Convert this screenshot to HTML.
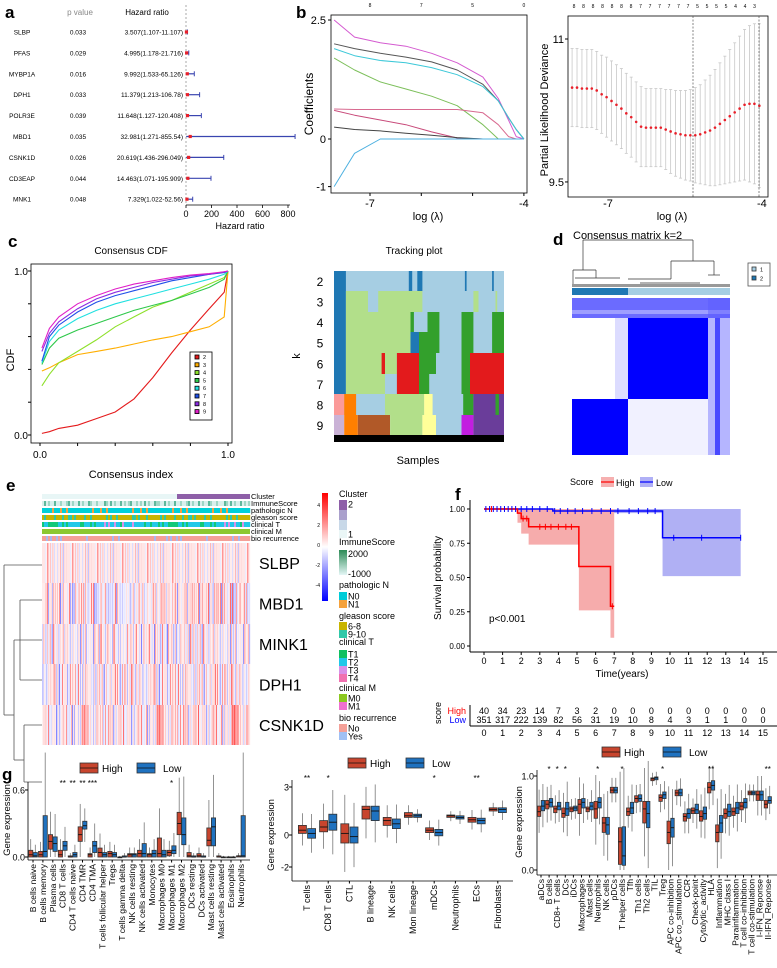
<!DOCTYPE html>
<html><head><meta charset="utf-8"><title>Figure</title>
<style>body{margin:0;background:#fff}svg{display:block;font-family:"Liberation Sans",Arial,sans-serif}</style></head>
<body>
<svg id="fig" width="777" height="968" viewBox="0 0 777 968" xmlns="http://www.w3.org/2000/svg">
<defs>
<linearGradient id="cbar" x1="0" y1="0" x2="0" y2="1"><stop offset="0" stop-color="#ff0000"/><stop offset="0.5" stop-color="#ffffff"/><stop offset="1" stop-color="#0000ff"/></linearGradient>
<linearGradient id="imm" x1="0" y1="0" x2="0" y2="1"><stop offset="0" stop-color="#2e8b57"/><stop offset="1" stop-color="#e4f6f6"/></linearGradient>
</defs>
</svg>
<script>
// ---------- DATA ----------
const aGenes=['SLBP','PFAS','MYBP1A','DPH1','POLR3E','MBD1','CSNK1D','CD3EAP','MNK1'];
const aP=['0.033','0.029','0.016','0.033','0.039','0.035','0.026','0.044','0.048'];
const aHR=[3.507,4.995,9.992,11.379,11.648,32.981,20.619,14.463,7.329];
const aLo=[1.107,1.178,1.533,1.213,1.127,1.271,1.436,1.071,1.022];
const aHi=[11.107,21.716,65.126,106.78,120.408,855.54,296.049,195.909,52.56];
const aTicks=[0,200,400,600,800];

const bLam=[-7.7,-7.3,-6.8,-6.3,-5.8,-5.3,-4.8,-4.5,-4.3,-4.15,-4];
const coefPink=[2.5,2.14,2.02,1.95,1.8,1.6,1.3,0.85,0.4,0.05,0];
const coefDark=[2.0,1.9,1.8,1.72,1.62,1.45,1.15,0.8,0.45,0.2,0];
const coefCyan=[1.9,1.75,1.65,1.6,1.5,1.35,1.1,0.8,0.45,0.2,0];
const coefGreen=[1.7,1.45,1.2,1.05,0.9,0.7,0.3,0,0,0,0];
const coefRose=[0.63,0.62,0.62,0.62,0.62,0.62,0.55,0.3,0.05,0,0];
const coefMauve=[0.6,0.5,0.4,0.3,0.15,0.02,0,0,0,0,0];
const coefGray=[0.25,0.2,0.17,0.12,0.08,0.03,0,0,0,0,0];
const coefBlue=[-1,-0.3,0,0,0,0,0,0,0,0,0];
const coefTopLab=['8','7','5','0'];
const coefTopLam=[-7,-6,-5,-4];

const devMean=[10.49,10.49,10.48,10.48,10.48,10.46,10.42,10.39,10.35,10.31,10.27,10.22,10.18,10.13,10.08,10.07,10.07,10.07,10.07,10.05,10.03,10.01,10.00,9.99,9.99,9.99,10.00,10.02,10.04,10.07,10.11,10.15,10.19,10.23,10.27,10.31,10.32,10.32,10.30];
const devSE=[.41,.41,.41,.41,.41,.41,.41,.42,.42,.42,.42,.42,.42,.42,.42,.41,.41,.41,.41,.42,.44,.45,.46,.47,.48,.50,.52,.55,.58,.61,.64,.67,.70,.73,.76,.79,.82,.84,.86];
const devTop=['8','8','8','8','8','8','8','7','7','7','7','7','7','5','5','5','5','4','4','3'];

const cdfX=[0.01,0.05,0.1,0.2,0.3,0.4,0.5,0.6,0.7,0.8,0.9,0.98,1.0];
const cdfK2=[.01,.02,.04,.06,.10,.14,.22,.35,.50,.64,.77,.87,1];
const cdfK3=[.39,.41,.44,.49,.51,.53,.555,.58,.60,.63,.66,.72,1];
const cdfK4=[.30,.37,.44,.51,.58,.66,.72,.78,.82,.87,.92,.96,1];
const cdfK5=[.43,.53,.59,.64,.68,.72,.76,.79,.82,.86,.90,.95,1];
const cdfK6=[.44,.57,.64,.71,.76,.80,.83,.86,.89,.92,.95,.98,1];
const cdfK7=[.45,.60,.67,.75,.81,.85,.88,.91,.94,.96,.98,.99,1];
const cdfK8=[.51,.62,.69,.77,.83,.87,.90,.93,.95,.97,.98,.995,1];
const cdfK9=[.53,.65,.72,.80,.85,.89,.92,.94,.96,.975,.985,.995,1];

const survHighT=[0,1.8,2.0,2.4,5.1,6.8,7.0];
const survHighS=[1,0.97,0.93,0.87,0.58,0.29,0.29];
const survHighLo=[1,0.9,0.82,0.74,0.26,0.06,0.06];
const survLowT=[0,3.7,9.6,13.8];
const survLowS=[1,0.985,0.79,0.79];
const survLowLo=[1,0.97,0.51,0.51];
const censHigh=[0.4,2.1,2.3,3.0,3.3,3.6,4.0,4.4,4.7,6.9];
const censLow=[0.1,0.3,0.5,0.7,0.9,1.1,1.3,1.5,1.7,2,2.3,2.6,3,3.4,3.8,4.1,4.5,4.9,5.3,5.8,6.3,6.8,7.2,7.8,8.3,8.8,9.2,10.2,11.7,13.8];
const riskHigh=[40,34,23,14,7,3,2,0,0,0,0,0,0,0,0,0];
const riskLow=[351,317,222,139,82,56,31,19,10,8,4,3,1,1,0,0];

const g1Cats=['B cells naive','B cells memory','Plasma cells','CD8 T cells','CD4 T cells naive','CD4 TMR','CD4 TMA','T cells follicular helper','Tregs','T cells gamma delta','NK cells resting','NK cells activated','Monocytes','Macrophages M0','Macrophages M1','Macrophages M2','DCs resting','DCs activated','Mast cells resting','Mast cells activated','Eosinophils','Neutrophils'];
const g1HMed=[.02,.02,.14,.02,0,.2,.02,.04,.03,0,.02,.03,.02,.03,.04,.3,.01,.01,.15,0,0,.01];
const g1HQ1=[0,0,.07,0,0,.14,0,0,0,0,0,0,0,0,.01,.2,0,0,.1,0,0,0];
const g1HQ3=[.06,.05,.2,.06,.01,.27,.03,.08,.05,0,.03,.06,.03,.17,.06,.4,.04,.03,.26,.01,0,.01];
const g1LMed=[.01,.05,.12,.1,.02,.28,.1,.02,.02,0,.02,.03,.03,.02,.06,.2,0,0,.27,0,0,.01];
const g1LQ1=[0,0,.05,.06,0,.25,.04,0,0,0,0,0,0,0,.03,.11,0,0,.1,0,0,0];
const g1LQ3=[.04,.37,.18,.14,.04,.32,.14,.04,.04,.01,.03,.12,.06,.06,.1,.35,.01,.01,.35,0,0,.37];
const g1Sig=['','','','**','**','**','***','','','','','','','','*','','','','','','',''];
const g1Ticks=[0.0,0.6];

const g2Cats=['T cells','CD8 T cells','CTL','B lineage','NK cells','Mon lineage','mDCs','Neutrophils','ECs','Fibroblasts'];
const g2HMed=[.3,.5,.1,1.6,.9,1.2,.3,1.2,.95,1.6];
const g2HQ1=[.1,.2,-.5,1.0,.6,1.1,.15,1.1,.8,1.5];
const g2HQ3=[.6,.9,.7,1.8,1.1,1.4,.45,1.25,1.1,1.7];
const g2LMed=[.1,.8,-.1,1.5,.7,1.2,.15,1.1,.9,1.6];
const g2LQ1=[-.2,.3,-.5,.9,.4,1.1,-.05,1.0,.7,1.4];
const g2LQ3=[.4,1.3,.5,1.8,1.0,1.3,.35,1.2,1.05,1.7];
const g2Sig=['**','*','','','','','*','','**',''];
const g2Ticks=[-2,0,3];

const g3Cats=['aDCs','B cells','CD8+ T cells','DCs','iDCs','Macrophages','Mast cells','Neutrophils','NK cells','pDCs','T helper cells','Tfh','Th1 cells','Th2 cells','TIL','Treg','APC co-inhibition','APC co_stimulation','CCR','Check-point','Cytolytic_activity','HLA','Inflammation','MHC class I','Parainflammation','T cell co-inhibition','T cell co-stimulation','I-IFN_Reponse','II-IFN_Reponse'];
const g3HMed=[.62,.7,.65,.6,.65,.7,.65,.65,.5,.85,.3,.62,.76,.65,.97,.77,.4,.82,.57,.63,.57,.88,.4,.6,.62,.68,.82,.8,.7];
const g3HQ1=[.57,.65,.61,.56,.62,.6,.62,.55,.4,.82,.06,.58,.72,.5,.95,.73,.28,.79,.52,.6,.52,.82,.3,.55,.58,.64,.8,.74,.66];
const g3HQ3=[.68,.74,.68,.66,.67,.75,.67,.73,.56,.88,.45,.66,.79,.73,.98,.8,.52,.85,.6,.66,.63,.93,.48,.65,.66,.72,.84,.84,.74];
const g3LMed=[.68,.72,.68,.65,.66,.72,.68,.72,.48,.85,.15,.66,.76,.6,.98,.8,.45,.82,.6,.64,.6,.9,.5,.62,.66,.72,.82,.8,.74];
const g3LQ1=[.63,.67,.64,.58,.63,.66,.64,.66,.38,.82,.05,.6,.73,.45,.96,.76,.35,.79,.55,.6,.54,.85,.4,.57,.6,.66,.8,.74,.71];
const g3LQ3=[.74,.76,.72,.72,.68,.76,.72,.77,.56,.88,.46,.72,.8,.73,.99,.83,.55,.86,.65,.7,.67,.95,.58,.7,.72,.76,.84,.84,.78];
const g3Sig=['','*','*','*','','','','*','','','*','','','','','*','','','','','','**','','','','','','','**'];
const g3Ticks=[0.0,1.0];

const hmPattern=[.2,-.4,.1,.5,-.1,.3,-.7,.2,.0,.6,-.3,.1,.4,-.5,.2,.9,-.2,.1,-.6,.3,.5,-.1,.2,-.8,.4,.1,-.3,.7,.0,-.2,.3,-.5,.6,.1,-.4,.2,.8,-.1,.3,-.6,.1,.4,-.2,.5,-.9,.2,.0,.6,-.3,.4,.1,-.5,.3,.7,-.1,.2,-.4,.5,.9,-.2];
const hmGenes=['SLBP','MBD1','MINK1','DPH1','CSNK1D'];
const hmGeneBias=[0.0,0.03,0.0,0.02,0.06];

// ---------- HELPERS ----------
const NS='http://www.w3.org/2000/svg';
const svg=document.getElementById('fig');
function mk(tag,a,p){const e=document.createElementNS(NS,tag);for(const k in a)e.setAttribute(k,a[k]);(p||svg).appendChild(e);return e;}
function grp(name){const g=mk('g',{});return g;}
function T(p,x,y,s,fs,anchor,fill,rot,weight){const e=mk('text',{x:x,y:y,'font-size':fs,'text-anchor':anchor||'start',fill:fill||'#000'},p);if(weight)e.setAttribute('font-weight',weight);if(rot)e.setAttribute('transform','rotate('+rot+' '+x+' '+y+')');e.textContent=s;return e;}
function L(p,x1,y1,x2,y2,st,w,dash){const e=mk('line',{x1:x1,y1:y1,x2:x2,y2:y2,stroke:st||'#000','stroke-width':w||1},p);if(dash)e.setAttribute('stroke-dasharray',dash);return e;}
function R(p,x,y,w,h,fill,st){const e=mk('rect',{x:x,y:y,width:Math.max(0,w),height:Math.max(0,h),fill:fill||'none'},p);if(st){e.setAttribute('stroke',st);e.setAttribute('stroke-width',0.8);}return e;}
function hmColor(v){v=Math.max(-1,Math.min(1,v));const a=Math.pow(Math.abs(v),1.6)*0.8+0.06;const c=Math.round(255*(1-Math.min(1,a)));if(v>=0){return 'rgb(255,'+c+','+c+')';}return 'rgb('+c+','+c+',255)';}

// ---------- PANEL LABELS ----------
(function(){const g=grp('panel-labels');
[['a',5,18],['b',296,18],['c',8,247],['d',553,245],['e',6,491],['f',455,500],['g',2,780]].forEach(function(d){const t=T(g,d[1],d[2],d[0],17,'start','#000',0,'bold');});})();

// ---------- PANEL A: forest ----------
(function(){const g=grp('forest-plot');
const hx=v=>186+v*(288-186)/800;
let t=T(g,80,15,'p value',8,'middle','#888');
t=T(g,147,15,'Hazard ratio',8,'middle');
let ln=L(g,186,5,186,205,'#aaa',1,'2,2');
aGenes.forEach(function(gn,i){const y=32+i*20.9;
 let e=T(g,22,y+2.5,gn,6.5,'middle');
 e=T(g,78,y+2.5,aP[i],6.5,'middle');
 e=T(g,183,y+2.5,aHR[i]+'('+aLo[i]+'-'+aHi[i]+')',6.5,'end');
 e=L(g,hx(aLo[i]),y,hx(aHi[i]),y,'#3a45b0',1.2);
 e=L(g,hx(aHi[i]),y-2.5,hx(aHi[i]),y+2.5,'#3a45b0',1);
 e=R(g,hx(aHR[i])-1.6,y-1.6,3.2,3.2,'#e8202a');
});
ln=L(g,186,205,290,205,'#000',0.8);
aTicks.forEach(function(v){let e=L(g,hx(v),205,hx(v),208,'#000',0.8);
 e=T(g,hx(v),217,String(v),9,'middle');});
t=T(g,240,229,'Hazard ratio',9,'middle');
})();

// ---------- PANEL B left: coefficients ----------
(function(){const g=grp('lasso-coefficient-plot');
const bx=l=>370+(l+7)*51.3, by=c=>139-c*47.6;
let e=R(g,331,15,196,178,'none','#000');
const series=[[coefPink,'#d45ad0'],[coefDark,'#555'],[coefCyan,'#3cc8d8'],[coefGreen,'#7cbf5a'],[coefRose,'#d86a90'],[coefMauve,'#c84a7a'],[coefGray,'#444'],[coefBlue,'#4cb0e0']];
series.forEach(function(s){let d='';s[0].forEach(function(v,i){d+=(i?'L':'M')+bx(bLam[i]).toFixed(1)+','+by(v).toFixed(1);});
 const p=mk('path',{d:d,fill:'none',stroke:s[1],'stroke-width':1,'stroke-linejoin':'round'},g);});
[2.5,0,-1].forEach(function(v){let q=L(g,328,by(v),331,by(v));
 q=T(g,326,by(v)+4,String(v),11,'end');});
[-7,-4].forEach(function(v){let q=T(g,bx(v),207,String(v),11,'middle');});
[-7,-6,-5,-4].forEach(function(v){let q=L(g,bx(v),193,bx(v),196);});
coefTopLab.forEach(function(s,i){let q=T(g,bx(coefTopLam[i]),7,s,5,'middle');});
e=T(g,428,220,'log (λ)',11,'middle');
e=T(g,313,104,'Coefficients',12,'middle','#000',-90);
})();

// ---------- PANEL B right: deviance ----------
(function(){const g=grp('lasso-deviance-plot');
const n=devMean.length;const lamAt=i=>-7.7+i*(3.65/(n-1));
const dx=l=>608+(l+7)*51.3, dy=v=>39+(11-v)*95.3;
let e=R(g,568,16,200,181,'none','#000');
devMean.forEach(function(m,i){const x=dx(lamAt(i));
 let q=L(g,x,dy(m+devSE[i]),x,dy(m-devSE[i]),'#c8c8c8',0.8);
 q=L(g,x-1.5,dy(m+devSE[i]),x+1.5,dy(m+devSE[i]),'#c8c8c8',0.8);
 q=L(g,x-1.5,dy(m-devSE[i]),x+1.5,dy(m-devSE[i]),'#c8c8c8',0.8);
 q=mk('circle',{cx:x,cy:dy(m),r:1.3,fill:'#e8202a'},g);});
let q=L(g,693,16,693,197,'#555',0.7,'2,1.5');
q=L(g,759,16,759,197,'#555',0.7,'2,1.5');
[11,9.5].forEach(function(v){let r=L(g,565,dy(v),568,dy(v));
 r=T(g,564,dy(v)+4,String(v),11,'end');});
[-7,-4].forEach(function(v){let r=T(g,dx(v),207,String(v),11,'middle');});
devTop.forEach(function(s,i){let r=T(g,574+i*9.5,8,s,5,'middle');});
e=T(g,672,220,'log (λ)',11,'middle');
e=T(g,548,110,'Partial Likelihood Deviance',11,'middle','#000',-90);
})();

// ---------- PANEL C: CDF ----------
(function(){const g=grp('consensus-cdf-plot');
const cx=v=>40+v*188, cy=v=>435-v*164;
let e=T(g,131,254,'Consensus CDF',10,'middle');
e=R(g,31,264,201,179,'none','#000');
const ser=[[cdfK2,'#e41a1c','2'],[cdfK3,'#ffae00','3'],[cdfK4,'#8ee02a','4'],[cdfK5,'#2ec84a','5'],[cdfK6,'#20e0e0','6'],[cdfK7,'#2050e8','7'],[cdfK8,'#8a2be2','8'],[cdfK9,'#e020c8','9']];
ser.forEach(function(s){let d='';s[0].forEach(function(v,i){d+=(i?'L':'M')+cx(cdfX[i]).toFixed(1)+','+cy(v).toFixed(1);});
 const p=mk('path',{d:d,fill:'none',stroke:s[1],'stroke-width':1.1},g);});
[0,1].forEach(function(v){let q=T(g,28,cy(v)+4,v.toFixed(1),10,'end');
 q=T(g,cx(v),458,v.toFixed(1),10,'middle');});
[0,0.2,0.4,0.6,0.8,1].forEach(function(v){let q=L(g,cx(v),443,cx(v),446);
 q=L(g,28,cy(v),31,cy(v));});
e=T(g,14,360,'CDF',11,'middle','#000',-90);
e=T(g,131,478,'Consensus index',11,'middle');
const lg=grp('cdf-legend');g.appendChild(lg);
e=R(lg,190,352,22,68,'#fff','#000');
ser.forEach(function(s,i){const y=357+i*7.8;let q=R(lg,195,y-2,4,4,s[1],'#000');
 q=T(lg,203,y+2,s[2],5.5,'start');});
})();

// ---------- TRACKING PLOT ----------
(function(){const g=grp('tracking-plot');
const LB='#a6cee3',DB='#1f78b4',LG='#b2df8a',G='#33a02c',RD='#e31a1c',PK='#fb9a99',OR='#ff7f00',BR='#b15928',Y='#ffff99',LP='#cab2d6',P='#6a3d9a',M='#c21ee0';
const rows=[[[0,1,LB],[0,.07,DB],[.44,.46,DB],[.49,.52,DB],[.77,.78,DB],[.93,.94,DB]],
[[0,1,LB],[0,.07,DB],[.07,.2,LG],[.26,.52,LG],[.82,.85,LG],[.95,.96,LG]],
[[0,1,LB],[0,.07,DB],[.07,.45,LG],[.45,.47,G],[.55,.62,G],[.75,.82,G],[.93,1,G]],
[[0,1,LB],[0,.07,DB],[.07,.45,LG],[.45,.5,DB],[.5,.62,G],[.75,.82,G],[.93,1,G]],
[[0,1,LB],[0,.07,DB],[.07,.37,LG],[.28,.3,RD],[.37,.5,RD],[.5,.6,G],[.75,.8,G],[.8,1,RD]],
[[0,1,LB],[0,.07,DB],[.07,.3,LG],[.37,.5,RD],[.5,.56,G],[.75,.8,G],[.8,1,RD]],
[[0,1,LB],[0,.06,PK],[.06,.13,OR],[.3,.53,LG],[.53,.58,Y],[.76,.82,G],[.82,1,P],[.95,.97,G]],
[[0,.06,LP],[.06,.14,OR],[.14,.33,BR],[.33,.52,LG],[.52,.6,Y],[.6,.75,LB],[.75,.82,M],[.82,1,P]]];
const tops=[271,291,312,332,353,374,394,415,435];
const tx=f=>334+f*170;
rows.forEach(function(segs,r){segs.forEach(function(s){let q=R(g,tx(s[0]),tops[r],tx(s[1])-tx(s[0]),tops[r+1]-tops[r],s[2]);});
 let q=T(g,320,(tops[r]+tops[r+1])/2+5,String(r+2),12,'middle');});
let e=R(g,334,435,170,7,'#000');
e=T(g,414,254,'Tracking plot',10,'middle');
e=T(g,300,356,'k',11,'middle','#000',-90);
e=T(g,418,464,'Samples',11,'middle');
})();

// ---------- PANEL D: consensus matrix ----------
(function(){const g=grp('consensus-matrix');
let e=T(g,573,239,'Consensus matrix k=2',11,'start');
const dl=[[583,240,693,240],[583,240,583,270],[693,240,693,261],[573,270,596,270],[573,270,573,285],[596,270,596,278],[671,261,714,261],[671,261,671,279],[714,261,714,275],[628,279,671,279],[708,275,720,275],[575,278,620,278],[640,283,700,283]];
dl.forEach(function(l){let q=L(g,l[0],l[1],l[2],l[3],'#333',0.7);});
e=R(g,572,284,158,3,'#999');
e=R(g,572,288,56,7,'#1f78b4');
e=R(g,628,288,102,7,'#a6cee3');
const blocks=[[572,298,158,157,'#ffffff',1],[572,298,158,20,'#3a3aff',0.75],[572,310,158,4,'#ffffff',0.35],[628,318,80,81,'#0000ff',1],[572,399,56,56,'#0000ff',1],[708,298,22,157,'#5a5aff',0.45],[715,318,5,137,'#0000ff',0.6],[615,318,13,81,'#9a9aff',0.35],[628,399,80,56,'#c8c8ff',0.25]];
blocks.forEach(function(b){let q=R(g,b[0],b[1],b[2],b[3],b[4]);q.setAttribute('opacity',b[5]);});
e=R(g,748,263,22,23,'#fff','#555');
[['1','#a6cee3',270],['2','#1f78b4',279]].forEach(function(l){let q=R(g,752,l[2]-3,4,4,l[1],'#333');
 q=T(g,760,l[2]+1.5,l[0],5.5);});
})();

// ---------- PANEL E: heatmap ----------
(function(){const g=grp('expression-heatmap');
const x0=42,w=208,nc=104,cw=w/nc;
const tracks=[['Cluster',494,5],['ImmuneScore',501,5],['pathologic N',508,5],['gleason score',515,5],['clinical T',522,5],['clinical M',529,5],['bio recurrence',536,5]];
let e=R(g,x0,494,135,5,'#e8f6f6');
e=R(g,177,494,73,5,'#8e5fa8');
for(let j=0;j<nc;j++){const v=hmPattern[j%60];const x=x0+j*cw;
 let q=R(g,x,501,cw+0.2,5,v>0.3?'#9fd6c6':(v<-0.3?'#5fb89c':'#d8efec'));
 q=R(g,x,508,cw+0.2,5,hmPattern[(j*3)%60]>0.6?'#f0a040':'#00d0d8');
 q=R(g,x,515,cw+0.2,5,hmPattern[(j*7+5)%60]>0.35?'#30c8a8':'#c8b400');
 const tv=hmPattern[(j*11+3)%60];q=R(g,x,522,cw+0.2,5,tv>0.3?'#10c878':(tv<-0.5?'#d890e8':'#20c8e8'));
 q=R(g,x,536,cw+0.2,5,hmPattern[(j*13+1)%60]>0.55?'#a8b8f0':'#f4a098');}
e=R(g,x0,529,w,5,'#8cc830');
tracks.forEach(function(t){let q=T(g,251,t[1]+5,t[0],7.5);});
const rowTops=[543,583,624,664,705,745];
const nh=208,hw=w/nh;
hmGenes.forEach(function(gn,r){for(let j=0;j<nh;j++){const v=hmPattern[(j*(r+7)+r*17+Math.floor(j/5))%60]*0.75+hmGeneBias[r]*(j/nh)*3;
 let q=R(g,x0+j*hw,rowTops[r],hw+0.15,rowTops[r+1]-rowTops[r],hmColor(v));}
 let q=T(g,259,(rowTops[r]+rowTops[r+1])/2+6,gn,16,'start');});
const dl=[[4,565,4,715],[4,565,42,565],[4,715,14,715],[14,640,14,760],[14,640,42,640],[14,760,24,760],[24,725,24,782],[24,725,42,725],[24,782,42,782],[20,600,42,600],[20,600,20,680],[20,680,42,680]];
dl.forEach(function(l){let q=L(g,l[0],l[1],l[2],l[3],'#555',0.8);});
e=R(g,322,493,6,108,'url(#cbar)');
[['4',507],['2',527],['0',547],['-2',567],['-4',587]].forEach(function(t){let q=T(g,320,t[1],t[0],5,'end');});
const lg=[['Cluster',497],['ImmuneScore',545],['pathologic N',588],['gleason score',619],['clinical T',645],['clinical M',691],['bio recurrence',721]];
lg.forEach(function(t){let q=T(g,339,t[1],t[0],9);});
const sw=[[500,'#8e5fa8','2'],[510,'#aaa0cc',''],[520,'#c8d8e8',''],[530,'#eaf6f6','1'],[592,'#00ccd8','N0'],[600,'#f5a23c','N1'],[622,'#c8b400','6-8'],[630,'#30c8a8','9-10'],[650,'#10c060','T1'],[658,'#20c8e8','T2'],[666,'#d890e8','T3'],[674,'#f070b0','T4'],[694,'#8cc820','M0'],[702,'#f070d0','M1'],[724,'#f4a098','No'],[732,'#a0c0f4','Yes']];
sw.forEach(function(s){let q=R(g,339,s[0],8,s[2]===''||s[2]==='2'?10:8,s[1]);
 if(s[2]){q=T(g,348,s[0]+7.5,s[2],9);}});
e=R(g,339,550,8,25,'url(#imm)');
e=T(g,348,557,'2000',9);
e=T(g,348,577,'-1000',9);
})();

// ---------- PANEL F: survival ----------
(function(){const g=grp('survival-plot');
const sx=t=>484+t*18.6, sy=s=>646-s*137;
let e=T(g,570,485,'Score',9);
e=R(g,601,477,13,10,'#f6b0b0');
e=L(g,601,482,614,482,'#f00',1.2);
e=T(g,616,486,'High',9);
e=R(g,640,477,13,10,'#b0b0f6');
e=L(g,640,482,653,482,'#00f',1.2);
e=T(g,656,486,'Low',9);
function ci(T0,Lo,col,name){let d='M'+sx(T0[0])+','+sy(1);for(let i=0;i<T0.length;i++){d+='L'+sx(T0[i])+','+sy(i?Lo[i-1]:1)+'L'+sx(T0[i])+','+sy(Lo[i]);}d+='L'+sx(T0[T0.length-1])+','+sy(1)+'Z';
 const p=mk('path',{d:d,fill:col,stroke:'none'},g);}
function km(T0,S,col,name){let d='M'+sx(T0[0])+','+sy(S[0]);for(let i=1;i<T0.length;i++){d+='L'+sx(T0[i])+','+sy(S[i-1])+'L'+sx(T0[i])+','+sy(S[i]);}
 const p=mk('path',{d:d,fill:'none',stroke:col,'stroke-width':1.5},g);}
function stepAt(T0,S,t){let v=S[0];for(let i=0;i<T0.length;i++)if(t>=T0[i])v=S[i];return v;}
ci(survLowT,survLowLo,'#b0b0f4','ci-band-low');ci(survHighT,survHighLo,'#f6acac','ci-band-high');
km(survLowT,survLowS,'#0000ff','km-curve-low');km(survHighT,survHighS,'#ff0000','km-curve-high');
censLow.forEach(function(t){const x=sx(t),y=sy(stepAt(survLowT,survLowS,t));let q=L(g,x,y-3,x,y+3,'#0000ff',1);});
censHigh.forEach(function(t){const x=sx(t),y=sy(stepAt(survHighT,survHighS,t));let q=L(g,x,y-3,x,y+3,'#ff0000',1);});
e=L(g,470,500,470,652,'#000',1);
e=L(g,470,652,777,652,'#000',1);
[0,0.25,0.5,0.75,1].forEach(function(v){let q=L(g,467,sy(v),470,sy(v));
 q=T(g,465,sy(v)+3,v.toFixed(2),8,'end');});
riskHigh.forEach(function(v,i){let q=L(g,sx(i),652,sx(i),655);
 q=T(g,sx(i),664,String(i),9,'middle');});
e=T(g,622,677,'Time(years)',10,'middle');
e=T(g,441,578,'Survival probability',10,'middle','#000',-90);
e=T(g,489,622,'p<0.001',10);
const rg=grp('risk-table');
e=T(rg,441,713,'score',9,'middle','#000',-90);
e=T(rg,466,714,'High',9,'end','#ff0000');
e=T(rg,466,723,'Low',9,'end','#0000ff');
e=L(rg,470,705,470,726);
e=L(rg,470,726,777,726);
riskHigh.forEach(function(v,i){let q=T(rg,sx(i),714,String(v),9,'middle');
 q=T(rg,sx(i),723,String(riskLow[i]),9,'middle');
 q=T(rg,sx(i),736,String(i),9,'middle');});
})();

// ---------- PANEL G: boxplots ----------
function boxPanel(cfg){const g=grp(cfg.name);
const px=i=>cfg.x0+i*cfg.dx;const py=v=>cfg.yBase-(v-cfg.vBase)*cfg.ppu;
let e=L(g,cfg.ax,cfg.yTop,cfg.ax,cfg.axY,'#000',0.8);
e=L(g,cfg.ax,cfg.axY,cfg.axR,cfg.axY,'#000',0.8);
cfg.ticks.forEach(function(v){let q=L(g,cfg.ax-3,py(v),cfg.ax,py(v));
 q=T(g,cfg.ax-3,py(v)+3.5,cfg.fmt(v),9,'end');});
function one(x,med,q1,q3,col){const iqr=q3-q1;const lo=Math.max(cfg.vMin,q1-1.5*iqr-0.01),hi=q3+1.5*iqr+0.01;
 let q=L(g,x,py(hi),x,py(lo),'#777',0.8);
 q=R(g,x-cfg.bw/2,py(q3),cfg.bw,Math.max(0.8,py(q1)-py(q3)),col,'#333');
 q=L(g,x-cfg.bw/2,py(med),x+cfg.bw/2,py(med),'#111',0.9);}
cfg.cats.forEach(function(c,i){const x=px(i);
 one(x-cfg.off,cfg.hMed[i],cfg.hQ1[i],cfg.hQ3[i],'#c8452e');one(x+cfg.off,cfg.lMed[i],cfg.lQ1[i],cfg.lQ3[i],'#1f72c0');
 let q=L(g,x,cfg.axY,x,cfg.axY+2.5);
 q=T(g,x+3,cfg.axY+4,c,cfg.fs,'end','#000',-90);
 if(cfg.sig[i]){q=T(g,x,cfg.sigY,cfg.sig[i],8,'middle');}});
e=T(g,cfg.ytX,cfg.ytY,'Gene expression',9.5,'middle','#000',-90);
const lx=cfg.legX,ly=cfg.legY;
e=R(g,lx,ly-9,18,10,'#c8452e','#333');
e=L(g,lx,ly-4,lx+18,ly-4,'#111',0.8);
e=T(g,lx+22,ly,'High',10);
e=R(g,lx+cfg.legGap,ly-9,18,10,'#1f72c0','#333');
e=L(g,lx+cfg.legGap,ly-4,lx+cfg.legGap+18,ly-4,'#111',0.8);
e=T(g,lx+cfg.legGap+26,ly,'Low',10);
}
boxPanel({name:'immune-cell-boxplot-cibersort',cats:g1Cats,hMed:g1HMed,hQ1:g1HQ1,hQ3:g1HQ3,lMed:g1LMed,lQ1:g1LQ1,lQ3:g1LQ3,sig:g1Sig,ticks:g1Ticks,fmt:v=>v.toFixed(1),
 x0:33,dx:9.9,off:2.3,bw:4.2,yBase:857,vBase:0,ppu:111.7,vMin:0,ax:28,yTop:782,axY:860,axR:250,fs:8.6,sigY:786,ytX:10,ytY:820,legX:80,legY:772,legGap:57});
boxPanel({name:'immune-cell-boxplot-mcpcounter',cats:g2Cats,hMed:g2HMed,hQ1:g2HQ1,hQ3:g2HQ3,lMed:g2LMed,lQ1:g2LQ1,lQ3:g2LQ3,sig:g2Sig,ticks:g2Ticks,fmt:v=>String(v),
 x0:307,dx:21.2,off:4.6,bw:8,yBase:835,vBase:0,ppu:16,vMin:-2.6,ax:292,yTop:780,axY:881,axR:513,fs:9,sigY:781,ytX:274,ytY:835,legX:348,legY:767,legGap:58});
boxPanel({name:'immune-function-boxplot-ssgsea',cats:g3Cats,hMed:g3HMed,hQ1:g3HQ1,hQ3:g3HQ3,lMed:g3LMed,lQ1:g3LQ1,lQ3:g3LQ3,sig:g3Sig,ticks:g3Ticks,fmt:v=>v.toFixed(1),
 x0:541,dx:8.1,off:1.9,bw:3.4,yBase:870,vBase:0,ppu:94,vMin:0,ax:537,yTop:770,axY:875,axR:777,fs:8.6,sigY:772,ytX:522,ytY:822,legX:602,legY:756,legGap:61});
</script>
</body></html>
